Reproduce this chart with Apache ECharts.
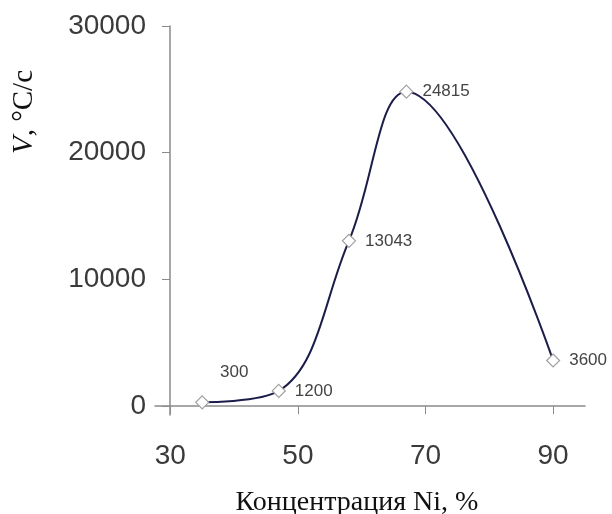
<!DOCTYPE html>
<html>
<head>
<meta charset="utf-8">
<script src="https://cdn.jsdelivr.net/npm/echarts@6/dist/echarts.min.js"></script>
<style>html,body{margin:0;padding:0;background:#fff;}#c{width:612px;height:514px;}</style>
</head>
<body>
<div id="c"></div>
<script>
const nickel = [35, 47, 58, 67, 90];
const rate = [300, 1200, 13043, 24815, 3600];
const xTicks = [30, 50, 70, 90];
const yTicks = [0, 10000, 20000, 30000];

const chart = echarts.init(document.getElementById('c'), null, {renderer: 'canvas'});
const data = nickel.map((x, i) => {
  const d = {value: [x, rate[i]]};
  if (i === 0) d.label = {position: 'top', offset: [32, -5]};
  return d;
});
chart.setOption({
  animation: false,
  backgroundColor: '#fff',
  grid: {left: 155, right: 27, top: 26, bottom: 99, containLabel: false},
  xAxis: {
    type: 'value', min: 27.6, max: 95,
    splitLine: {show: false},
    axisLine: {onZero: true, lineStyle: {color: '#8a8a8a', width: 1.5}},
    axisTick: {customValues: xTicks, length: 8, lineStyle: {color: '#8a8a8a'}},
    axisLabel: {customValues: xTicks, margin: 27, fontFamily: 'Liberation Sans', fontSize: 28, color: '#3a3a3a',
      formatter: v => String(v)}
  },
  yAxis: {
    type: 'value', min: -700, max: 30000, offset: -15,
    splitLine: {show: false},
    axisLine: {show: true, onZero: false, lineStyle: {color: '#8a8a8a', width: 1.5}},
    axisTick: {show: true, customValues: yTicks, length: 8, lineStyle: {color: '#8a8a8a'}},
    axisLabel: {customValues: yTicks, margin: 24, fontFamily: 'Liberation Sans', fontSize: 28, color: '#3a3a3a',
      formatter: v => String(v)}
  },
  graphic: [
    {type: 'text', x: 24, y: 112, rotation: Math.PI / 2,
     style: {text: '{i|V}, °C/c', align: 'center', verticalAlign: 'middle', fontFamily: 'Liberation Serif', fontSize: 29, fill: '#111',
       rich: {i: {fontStyle: 'italic', fontFamily: 'Liberation Serif', fontSize: 29, fill: '#111'}}}},
    {type: 'text', x: 357, y: 503,
     style: {text: 'Концентрация Ni, %', align: 'center', verticalAlign: 'middle', fontFamily: 'Liberation Serif', fontSize: 28, fill: '#111'}}
  ],
  series: [{
    type: 'line',
    data: data,
    smooth: 0.4,
    lineStyle: {color: '#1c1c4a', width: 2},
    symbol: 'diamond', symbolSize: 13,
    itemStyle: {color: '#fff', borderColor: '#a0a0a0', borderWidth: 1.2},
    label: {show: true, position: 'right', distance: 9, fontFamily: 'Liberation Sans', fontSize: 17, color: '#444',
      formatter: p => String(p.value[1])}
  }]
});
</script>
</body>
</html>
